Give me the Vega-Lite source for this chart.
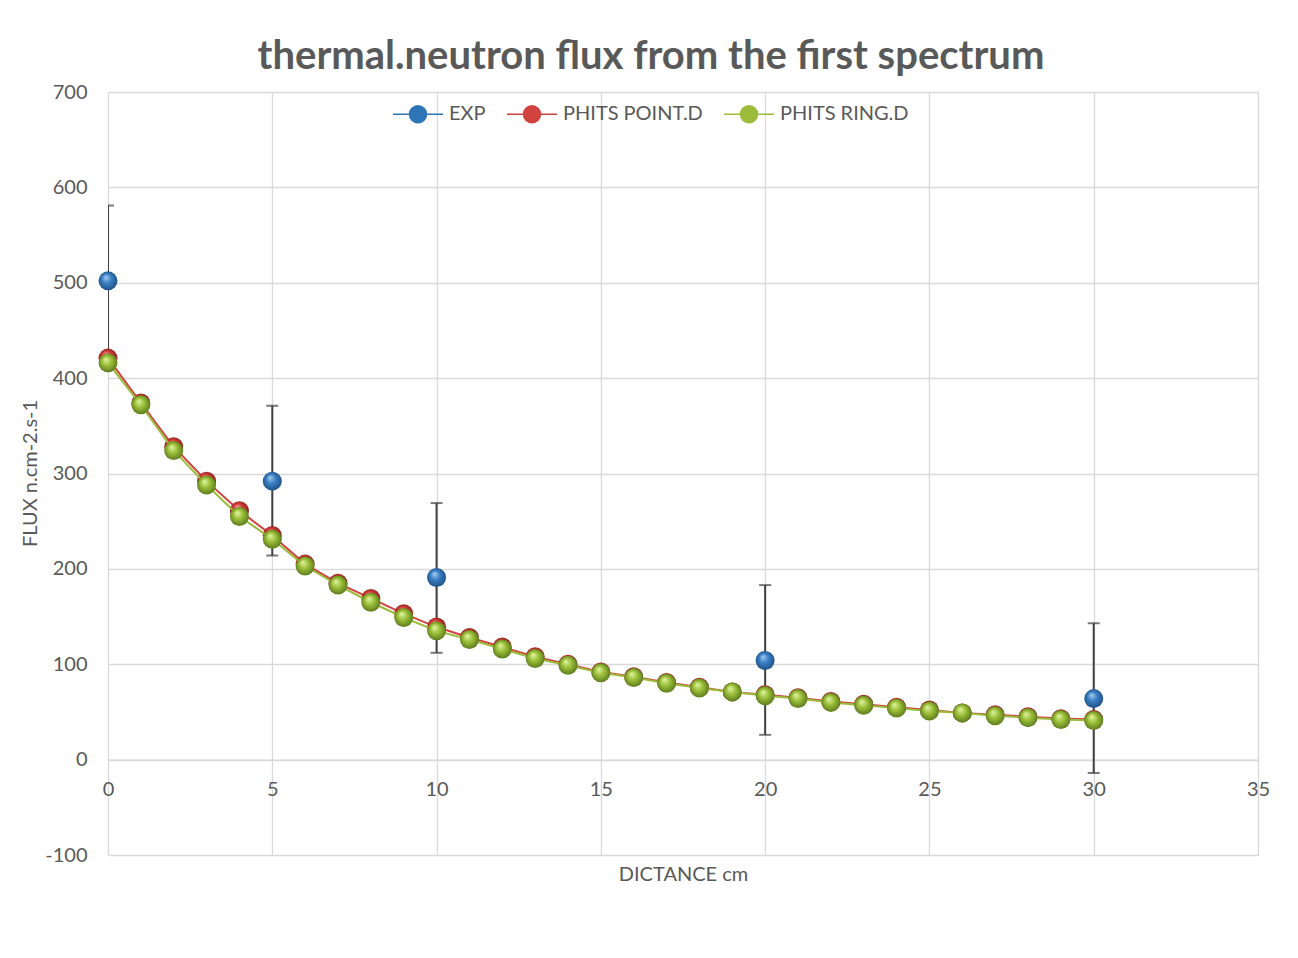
{
  "$schema": "https://vega.github.io/schema/vega-lite/v6.json",
  "width": 1150,
  "height": 763,
  "autosize": "none",
  "padding": {"left": 108, "top": 92, "right": 40, "bottom": 103},
  "background": "white",
  "config": {
    "font": "Lato",
    "view": {"stroke": null},
    "axis": {"labelFont": "Lato", "titleFont": "Lato", "labelColor": "#595959", "titleColor": "#595959", "labelFontSize": 20, "titleFontSize": 20, "titleFontWeight": "normal", "gridColor": "#d9d9d9", "gridWidth": 1.3, "tickSize": 0, "domain": false, "labelFlush": false, "labelExpr": "'' + datum.value"}
  },
  "title": {"text": "thermal.neutron flux from the first spectrum", "font": "Lato", "fontSize": 40, "fontWeight": "bold", "color": "#595959", "anchor": "middle", "dx": -32, "offset": 5},
  "datasets": {
    "phits": [
      {"series": "PHITS POINT.D", "dist": 0, "flux": 421}, {"series": "PHITS POINT.D", "dist": 1, "flux": 374}, {"series": "PHITS POINT.D", "dist": 2, "flux": 328}, {"series": "PHITS POINT.D", "dist": 3, "flux": 292}, {"series": "PHITS POINT.D", "dist": 4, "flux": 261}, {"series": "PHITS POINT.D", "dist": 5, "flux": 235}, {"series": "PHITS POINT.D", "dist": 6, "flux": 205}, {"series": "PHITS POINT.D", "dist": 7, "flux": 185}, {"series": "PHITS POINT.D", "dist": 8, "flux": 169}, {"series": "PHITS POINT.D", "dist": 9, "flux": 153}, {"series": "PHITS POINT.D", "dist": 10, "flux": 139}, {"series": "PHITS POINT.D", "dist": 11, "flux": 128}, {"series": "PHITS POINT.D", "dist": 12, "flux": 118}, {"series": "PHITS POINT.D", "dist": 13, "flux": 108}, {"series": "PHITS POINT.D", "dist": 14, "flux": 100}, {"series": "PHITS POINT.D", "dist": 15, "flux": 92}, {"series": "PHITS POINT.D", "dist": 16, "flux": 87}, {"series": "PHITS POINT.D", "dist": 17, "flux": 81}, {"series": "PHITS POINT.D", "dist": 18, "flux": 76}, {"series": "PHITS POINT.D", "dist": 19, "flux": 71}, {"series": "PHITS POINT.D", "dist": 20, "flux": 68}, {"series": "PHITS POINT.D", "dist": 21, "flux": 65}, {"series": "PHITS POINT.D", "dist": 22, "flux": 61}, {"series": "PHITS POINT.D", "dist": 23, "flux": 58}, {"series": "PHITS POINT.D", "dist": 24, "flux": 55}, {"series": "PHITS POINT.D", "dist": 25, "flux": 52}, {"series": "PHITS POINT.D", "dist": 26, "flux": 49}, {"series": "PHITS POINT.D", "dist": 27, "flux": 47}, {"series": "PHITS POINT.D", "dist": 28, "flux": 45}, {"series": "PHITS POINT.D", "dist": 29, "flux": 43}, {"series": "PHITS POINT.D", "dist": 30, "flux": 42},
      {"series": "PHITS RING.D", "dist": 0, "flux": 416}, {"series": "PHITS RING.D", "dist": 1, "flux": 372}, {"series": "PHITS RING.D", "dist": 2, "flux": 324}, {"series": "PHITS RING.D", "dist": 3, "flux": 288}, {"series": "PHITS RING.D", "dist": 4, "flux": 255}, {"series": "PHITS RING.D", "dist": 5, "flux": 231}, {"series": "PHITS RING.D", "dist": 6, "flux": 203}, {"series": "PHITS RING.D", "dist": 7, "flux": 183}, {"series": "PHITS RING.D", "dist": 8, "flux": 165}, {"series": "PHITS RING.D", "dist": 9, "flux": 149}, {"series": "PHITS RING.D", "dist": 10, "flux": 135}, {"series": "PHITS RING.D", "dist": 11, "flux": 126}, {"series": "PHITS RING.D", "dist": 12, "flux": 116}, {"series": "PHITS RING.D", "dist": 13, "flux": 106}, {"series": "PHITS RING.D", "dist": 14, "flux": 99}, {"series": "PHITS RING.D", "dist": 15, "flux": 91}, {"series": "PHITS RING.D", "dist": 16, "flux": 86}, {"series": "PHITS RING.D", "dist": 17, "flux": 80}, {"series": "PHITS RING.D", "dist": 18, "flux": 75}, {"series": "PHITS RING.D", "dist": 19, "flux": 71}, {"series": "PHITS RING.D", "dist": 20, "flux": 67}, {"series": "PHITS RING.D", "dist": 21, "flux": 64}, {"series": "PHITS RING.D", "dist": 22, "flux": 60}, {"series": "PHITS RING.D", "dist": 23, "flux": 57}, {"series": "PHITS RING.D", "dist": 24, "flux": 54}, {"series": "PHITS RING.D", "dist": 25, "flux": 51}, {"series": "PHITS RING.D", "dist": 26, "flux": 49}, {"series": "PHITS RING.D", "dist": 27, "flux": 46}, {"series": "PHITS RING.D", "dist": 28, "flux": 44}, {"series": "PHITS RING.D", "dist": 29, "flux": 42}, {"series": "PHITS RING.D", "dist": 30, "flux": 41}
    ],
    "exp": [
      {"series": "EXP", "dist": 0, "flux": 502, "lo": 424, "hi": 581},
      {"series": "EXP", "dist": 5, "flux": 292, "lo": 214, "hi": 371},
      {"series": "EXP", "dist": 10, "flux": 191, "lo": 112, "hi": 269},
      {"series": "EXP", "dist": 20, "flux": 104, "lo": 26, "hi": 183},
      {"series": "EXP", "dist": 30, "flux": 64, "lo": -14, "hi": 143}
    ]
  },
  "encoding": {
    "x": {"field": "dist", "type": "quantitative", "scale": {"domain": [0, 35], "nice": false, "zero": false},
      "axis": {"values": [0, 5, 10, 15, 20, 25, 30, 35], "title": "DICTANCE cm", "offset": -95.4, "labelPadding": 20, "titleY": 115, "titleBaseline": "middle", "domain": true, "domainColor": "#d9d9d9", "domainWidth": 1.3}},
    "y": {"field": "flux", "type": "quantitative", "scale": {"domain": [-100, 700], "nice": false, "zero": false},
      "axis": {"values": [-100, 0, 100, 200, 300, 400, 500, 600, 700], "title": "FLUX n.cm-2.s-1", "labelPadding": 21, "titleX": -78, "titleY": 381, "titleAngle": -90, "titleAlign": "center", "titleBaseline": "middle"}}
  },
  "layer": [
    {
      "data": {"name": "exp"},
      "mark": {"type": "rule", "color": "#404040", "strokeWidth": 2, "clip": true},
      "encoding": {"y": {"field": "lo", "type": "quantitative"}, "y2": {"field": "hi"}}
    },
    {
      "data": {"name": "exp"},
      "mark": {"type": "tick", "orient": "horizontal", "color": "#404040", "size": 12, "thickness": 2, "clip": true},
      "encoding": {"y": {"field": "hi", "type": "quantitative"}}
    },
    {
      "data": {"name": "exp"},
      "mark": {"type": "tick", "orient": "horizontal", "color": "#404040", "size": 12, "thickness": 2, "clip": true},
      "encoding": {"y": {"field": "lo", "type": "quantitative"}}
    },
    {
      "data": {"name": "exp"},
      "mark": {"type": "point", "shape": "circle", "filled": true, "size": 360, "opacity": 1,
        "fill": {"gradient": "radial", "x1": 0.38, "y1": 0.3, "r1": 0, "x2": 0.5, "y2": 0.5, "r2": 0.55,
          "stops": [{"offset": 0, "color": "#a9cdf0"}, {"offset": 0.45, "color": "#3a7fc4"}, {"offset": 1, "color": "#1c4c80"}]}}
    },
    {
      "data": {"name": "phits"},
      "transform": [{"filter": "datum.series == 'PHITS POINT.D'"}],
      "mark": {"type": "line", "strokeWidth": 2},
      "encoding": {"color": {"field": "series", "type": "nominal",
        "scale": {"domain": ["EXP", "PHITS POINT.D", "PHITS RING.D"], "range": ["#2e75b6", "#d0433e", "#9bbb3b"]},
        "legend": {"title": null, "orient": "none", "legendX": 284, "legendY": -4, "direction": "horizontal",
          "symbolType": "M-1,0H1M0.34,0A0.34,0.34 0 1,1 -0.34,0A0.34,0.34 0 1,1 0.34,0Z", "symbolSize": 2500, "symbolStrokeWidth": 1.5,
          "labelFont": "Lato", "labelFontSize": 20, "labelColor": "#595959", "labelOffset": 5, "columnPadding": 18,
          "encode": {"symbols": {"update": {"fill": {"scale": "color", "field": "value"}}}}}}}
    },
    {
      "data": {"name": "phits"},
      "transform": [{"filter": "datum.series == 'PHITS POINT.D'"}],
      "mark": {"type": "point", "shape": "circle", "filled": true, "size": 360, "opacity": 1,
        "fill": {"gradient": "radial", "x1": 0.38, "y1": 0.3, "r1": 0, "x2": 0.5, "y2": 0.5, "r2": 0.55,
          "stops": [{"offset": 0, "color": "#f5aaa6"}, {"offset": 0.45, "color": "#d33d37"}, {"offset": 1, "color": "#8a1d19"}]}}
    },
    {
      "data": {"name": "phits"},
      "transform": [{"filter": "datum.series == 'PHITS RING.D'"}],
      "mark": {"type": "line", "strokeWidth": 2},
      "encoding": {"color": {"field": "series", "type": "nominal"}}
    },
    {
      "data": {"name": "phits"},
      "transform": [{"filter": "datum.series == 'PHITS RING.D'"}],
      "mark": {"type": "point", "shape": "circle", "filled": true, "size": 360, "opacity": 1,
        "fill": {"gradient": "radial", "x1": 0.38, "y1": 0.3, "r1": 0, "x2": 0.5, "y2": 0.5, "r2": 0.55,
          "stops": [{"offset": 0, "color": "#e4f5a8"}, {"offset": 0.45, "color": "#9cc13a"}, {"offset": 1, "color": "#56731a"}]}}
    }
  ]
}
